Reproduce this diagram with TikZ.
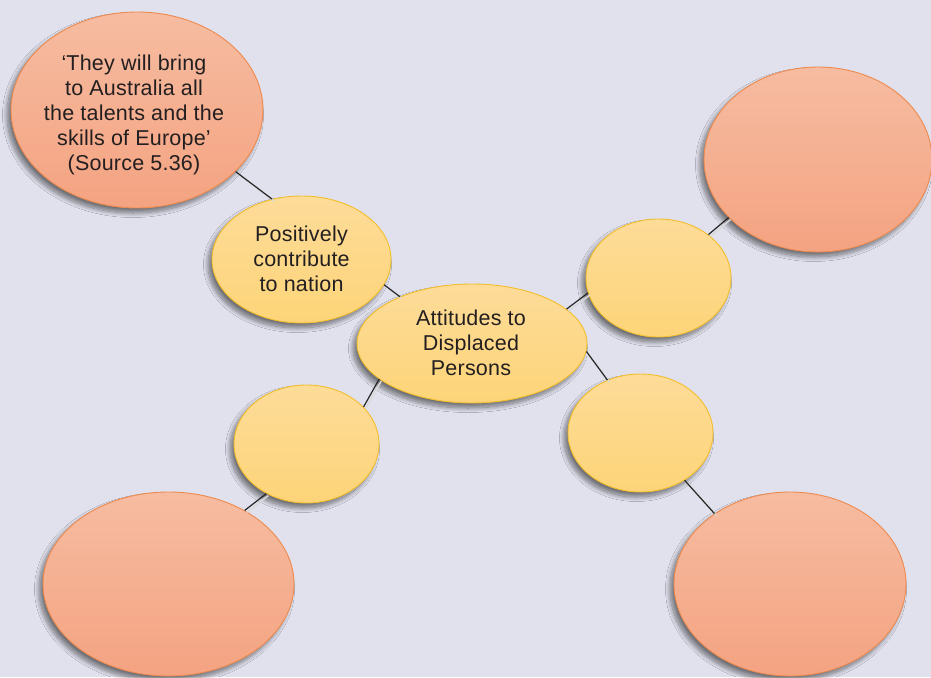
\documentclass[tikz,border=0pt]{standalone}
\usepackage{fontspec}
\setmainfont{Liberation Sans}[LetterSpace=1]
\usetikzlibrary{shapes.geometric,shadows.blur}
\definecolor{bg}{HTML}{E0E1ED}
\definecolor{orTop}{HTML}{F6BCA1}
\definecolor{orBot}{HTML}{F4A381}
\definecolor{orLine}{HTML}{EE8A4E}
\definecolor{yeTop}{HTML}{FDDC99}
\definecolor{yeBot}{HTML}{FDD478}
\definecolor{yeLine}{HTML}{F4BE2A}
\definecolor{txt}{HTML}{231F20}
\newcommand{\btext}[3]{\raisebox{#1}[\height][\depth]{\makebox[100pt][c]{\hspace*{#2}\begin{tabular}{@{}c@{}}#3\end{tabular}}}}
\begin{document}
\begin{tikzpicture}[x=1pt,y=-1pt,
  bubble/.style={ellipse, inner sep=0pt, align=center, text=txt,
    font=\fontsize{21.5}{25}\selectfont, line width=0.9pt,
    blur shadow={shadow xshift=-4pt, shadow yshift=-5pt, shadow blur radius=4.5pt, shadow blur steps=12, shadow opacity=50}},
  orb/.style={bubble, draw=orLine, top color=orTop, bottom color=orBot},
  yeb/.style={bubble, draw=yeLine, top color=yeTop, bottom color=yeBot},
  conn/.style={draw=black!85, line width=1.2pt},
  connsh/.style={draw=white!70!gray, line width=1.4pt, transform canvas={xshift=2pt,yshift=-2pt}}
]
\useasboundingbox (0,0) rectangle (931,677);
\clip (0,0) rectangle (931,677);
\fill[bg] (0,0) rectangle (931,677);

% outer (orange) bubbles
\node[orb, minimum width=252pt, minimum height=196pt] (tl) at (137,110)
  {\btext{-5pt}{-6pt}{‘They will bring\\to Australia all\\the talents and the\\skills of Europe’\\(Source 5.36)}};
\node[orb, minimum width=228pt, minimum height=185pt] (tr) at (818,159.5) {};
\node[orb, minimum width=251pt, minimum height=184pt] (bl) at (168.5,584) {};
\node[orb, minimum width=232pt, minimum height=184pt] (br) at (790,584) {};

% inner (yellow) bubbles
\node[yeb, minimum width=179pt, minimum height=127pt] (pos) at (301.5,259.5)
  {\btext{-2pt}{0pt}{Positively\\contribute\\to nation}};
\node[yeb, minimum width=145pt, minimum height=118pt] (ur) at (658.5,278) {};
\node[yeb, minimum width=145pt, minimum height=118pt] (ll) at (306.5,444) {};
\node[yeb, minimum width=145pt, minimum height=118pt] (lr) at (640.5,433) {};
\node[yeb, minimum width=230pt, minimum height=119pt] (c) at (472,343.5)
  {\btext{-2pt}{-2pt}{Attitudes to\\Displaced\\Persons}};

% connector shadows
\path[connsh] (tl.-32.6) -- (pos.116.4);
\path[connsh] (pos.-17.4) -- (c.147.1);
\path[connsh] (c.20.9) -- (ur.-168.8);
\path[connsh] (ur.41) -- (tr.213.8);
\path[connsh] (c.201.2) -- (ll.33.2);
\path[connsh] (ll.231.1) -- (bl.44);
\path[connsh] (c.-4.8) -- (lr.122);
\path[connsh] (lr.-47.8) -- (br.137);

% connectors
\path[conn] (tl.-32.6) -- (pos.116.4);
\path[conn] (pos.-17.4) -- (c.147.1);
\path[conn] (c.20.9) -- (ur.-168.8);
\path[conn] (ur.41) -- (tr.213.8);
\path[conn] (c.201.2) -- (ll.33.2);
\path[conn] (ll.231.1) -- (bl.44);
\path[conn] (c.-4.8) -- (lr.122);
\path[conn] (lr.-47.8) -- (br.137);
\end{tikzpicture}
\end{document}
